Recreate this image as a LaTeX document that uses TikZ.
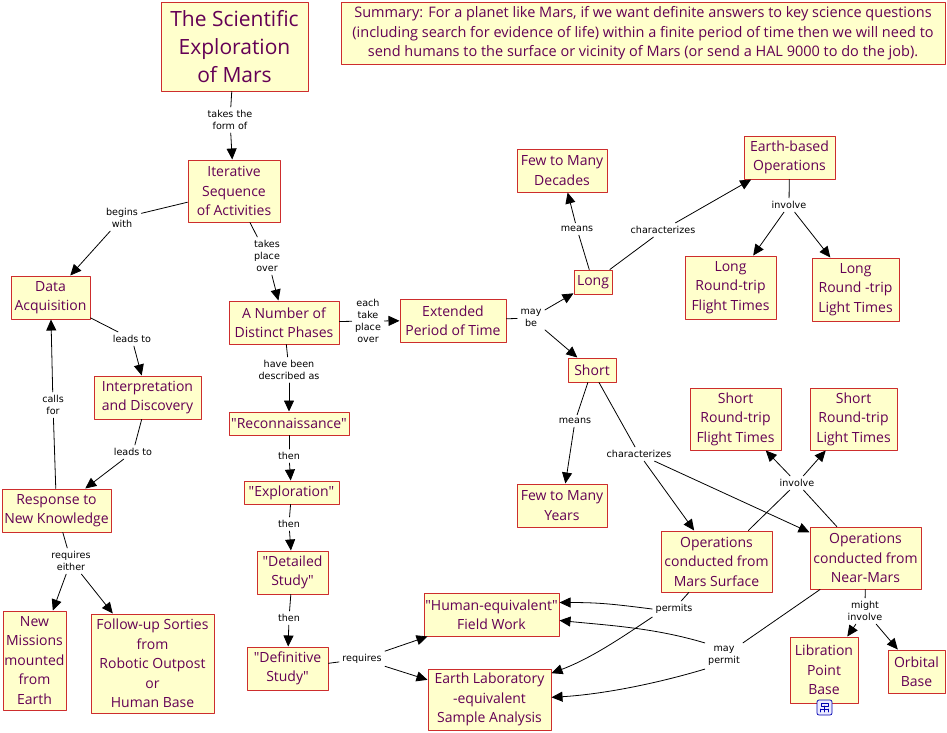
\documentclass[tikz,border=0pt]{standalone}
\usepackage{fontspec}
\setmainfont{Open Sans}
\newfontfamily\linkfont{DejaVu Sans}
\usetikzlibrary{arrows.meta}
\definecolor{conceptred}{RGB}{205,45,45}
\definecolor{conceptfill}{RGB}{255,255,204}
\definecolor{concepttext}{RGB}{100,0,85}
\newcommand{\qt}{\textquotedbl}
\begin{document}
\begin{tikzpicture}[x=1pt,y=-1pt,line join=round,line cap=round,>={Triangle[length=11pt,width=10pt]},line width=0.8pt,
		concept/.style 2 args={draw=conceptred,fill=conceptfill,text=concepttext,line width=1pt,align=center,inner sep=1pt,minimum width=#1,minimum height=#2,font=\fontsize{14}{19.5}\selectfont},
		link/.style={align=center,inner sep=3pt,font=\linkfont\fontsize{9.6}{12}\selectfont}]
			\useasboundingbox (0,0) rectangle (947,732);
			% concepts
			\node[concept={147pt}{89pt},font=\fontsize{21}{28}\selectfont] (title) at (234.5,46.5) {The Scientific\\Exploration\\of Mars};
			\node[concept={604pt}{62pt},font=\fontsize{14.5}{19.5}\selectfont] (summary) at (643,33.5) {Summary: For a planet like Mars, if we want definite answers to key science questions\\(including search for evidence of life) within a finite period of time then we will need to\\send humans to the surface or vicinity of Mars (or send a HAL 9000 to do the job).};
			\node[concept={92pt}{62pt}] (iter) at (234,191) {Iterative\\Sequence\\of Activities};
			\node[concept={79pt}{43pt}] (dataacq) at (50.5,297.5) {Data\\Acquisition};
			\node[concept={107pt}{43pt}] (interp) at (147.5,397.5) {Interpretation\\and Discovery};
			\node[concept={109pt}{43pt}] (response) at (56.5,510.5) {Response to\\New Knowledge};
			\node[concept={63pt}{99pt}] (newmis) at (34.5,660.5) {New\\Missions\\mounted\\from\\Earth};
			\node[concept={123pt}{99pt}] (followup) at (152.5,663.5) {Follow-up Sorties\\from\\Robotic Outpost\\or\\Human Base};
			\node[concept={110pt}{43pt}] (phases) at (284,322.5) {A Number of\\Distinct Phases};
			\node[concept={120pt}{23pt}] (recon) at (289,423.5) {\qt Reconnaissance\qt};
			\node[concept={95pt}{23pt}] (explor) at (291.5,492.5) {\qt Exploration\qt};
			\node[concept={71pt}{43pt}] (detailed) at (292.5,572.5) {\qt Detailed\\Study\qt};
			\node[concept={81pt}{43pt}] (definitive) at (287.5,668.5) {\qt Definitive\\Study\qt};
			\node[concept={106pt}{43pt}] (extended) at (453,320.5) {Extended\\Period of Time};
			\node[concept={38pt}{24pt}] (long) at (593,282) {Long};
			\node[concept={48pt}{24pt}] (short) at (592,370) {Short};
			\node[concept={90pt}{43pt}] (decades) at (562,170.5) {Few to Many\\Decades};
			\node[concept={90pt}{43pt}] (years) at (562,505.5) {Few to Many\\Years};
			\node[concept={91pt}{43pt}] (earthops) at (789.5,157.5) {Earth-based\\Operations};
			\node[concept={91pt}{63pt}] (longflight) at (730.5,287.5) {Long\\Round-trip\\Flight Times};
			\node[concept={87pt}{63pt}] (longlight) at (855.5,289.5) {Long\\Round -trip\\Light Times};
			\node[concept={91pt}{62pt}] (shortflight) at (735.5,419) {Short\\Round-trip\\Flight Times};
			\node[concept={87pt}{62pt}] (shortlight) at (853.5,419) {Short\\Round-trip\\Light Times};
			\node[concept={111pt}{61pt}] (marssurf) at (716.5,561.5) {Operations\\conducted from\\Mars Surface};
			\node[concept={111pt}{62pt}] (nearmars) at (865.5,558) {Operations\\conducted from\\Near-Mars};
			\node[concept={68pt}{66pt}] (libration) at (824,670) {Libration\\Point\\Base};
			\node[concept={57pt}{43pt}] (orbital) at (916.5,671.5) {Orbital\\Base};
			\node[concept={135pt}{43pt}] (human) at (491.5,614.5) {\qt Human-equivalent\qt\\Field Work};
			\node[concept={123pt}{61pt}] (earthlab) at (489.5,699.5) {Earth Laboratory\\-equivalent\\Sample Analysis};
			% link labels
			\node[link] (takesform) at (230,120) {takes the\\form of};
			\node[link] (beginswith) at (122,218) {begins\\with};
			\node[link] (takesplace) at (267,256) {takes\\place\\over};
			\node[link] (leadsA) at (132,339) {leads to};
			\node[link] (callsfor) at (53,405) {calls\\for};
			\node[link] (leadsB) at (133,452) {leads to};
			\node[link] (reqeither) at (71,561) {requires\\either};
			\node[link] (described) at (289,370) {have been\\described as};
			\node[link] (eachover) at (368,321) {each\\take\\place\\over};
			\node[link] (thenA) at (289,456) {then};
			\node[link] (thenB) at (289,524) {then};
			\node[link] (thenC) at (289,618) {then};
			\node[link] (requires) at (362,659) {requires};
			\node[link] (maybe) at (531,318) {may\\be};
			\node[link] (meansA) at (577,229) {means};
			\node[link] (charA) at (663,230) {characterizes};
			\node[link] (involveA) at (789,205) {involve};
			\node[link] (meansB) at (575,421) {means};
			\node[link] (charB) at (639,454) {characterizes};
			\node[link] (involveB) at (797,483) {involve};
			\node[link] (permits) at (674,609) {permits};
			\node[link] (maypermit) at (724,656) {may\\permit};
			\node[link] (mightinv) at (865,611) {might\\involve};
			% connectors
			\draw (title) -- (takesform);
			\draw[->] (takesform) -- (iter);
			\draw (iter) -- (beginswith);
			\draw[->] (beginswith) -- (dataacq);
			\draw (iter) -- (takesplace);
			\draw[->] (takesplace) -- (phases);
			\draw (dataacq) -- (leadsA);
			\draw[->] (leadsA) -- (interp);
			\draw (interp) -- (leadsB);
			\draw[->] (leadsB) -- (response);
			\draw (response) -- (callsfor);
			\draw[->] (callsfor) -- (dataacq);
			\draw (response) -- (reqeither);
			\draw[->] (reqeither) -- (newmis);
			\draw[->] (reqeither) -- (followup);
			\draw (phases) -- (described);
			\draw[->] (described) -- (recon);
			\draw (phases) -- (eachover);
			\draw[->] (eachover) -- (extended);
			\draw (recon) -- (thenA);
			\draw[->] (thenA) -- (explor);
			\draw (explor) -- (thenB);
			\draw[->] (thenB) -- (detailed);
			\draw (detailed) -- (thenC);
			\draw[->] (thenC) -- (definitive);
			\draw (definitive) -- (requires);
			\draw[->] (requires) -- (human);
			\draw[->] (requires) -- (earthlab);
			\draw (extended) -- (maybe);
			\draw[->] (maybe) -- (long);
			\draw[->] (maybe) -- (short);
			\draw (long) -- (meansA);
			\draw[->] (meansA) -- (decades);
			\draw (long) -- (charA);
			\draw[->] (charA) -- (earthops);
			\draw (earthops) -- (involveA);
			\draw[->] (involveA) -- (longflight);
			\draw[->] (involveA) -- (longlight);
			\draw (short) -- (meansB);
			\draw[->] (meansB) -- (years);
			\draw (short) -- (charB);
			\draw[->] (charB) -- (marssurf);
			\draw[->] (charB) -- (nearmars);
			\draw (marssurf) -- (involveB);
			\draw (nearmars) -- (involveB);
			\draw[->] (involveB) -- (shortflight);
			\draw[->] (involveB) -- (shortlight);
			\draw (marssurf) -- (permits);
			\draw[->] (permits.west) .. controls +(-40,-5) and +(40,0) .. (human.10);
			\draw[->] (permits.south west) .. controls +(-30,20) and +(40,-15) .. (earthlab.23);
			\draw (nearmars) -- (maypermit);
			\draw[->] (maypermit.north west) .. controls +(-50,-15) and +(50,5) .. (human.-5);
			\draw[->] (maypermit.south west) .. controls +(-50,15) and +(50,-3) .. (earthlab.2);
			\draw (nearmars) -- (mightinv);
			\draw[->] (mightinv) -- (libration);
			\draw[->] (mightinv) -- (orbital);
			% map link icon
			\draw[line width=0.7pt,draw=blue!70!black,fill=blue!8,rounded corners=2pt] (817,700) rectangle (832,715);
			\draw[line width=0.6pt,draw=blue!70!black] (821,703) rectangle (828,706) (824.5,706) -- (824.5,709) (820.5,709) -- (828.5,709) (820.5,709) -- (820.5,712) (824.5,709) -- (824.5,712) (828.5,709) -- (828.5,712);
		\end{tikzpicture}
\end{document}
